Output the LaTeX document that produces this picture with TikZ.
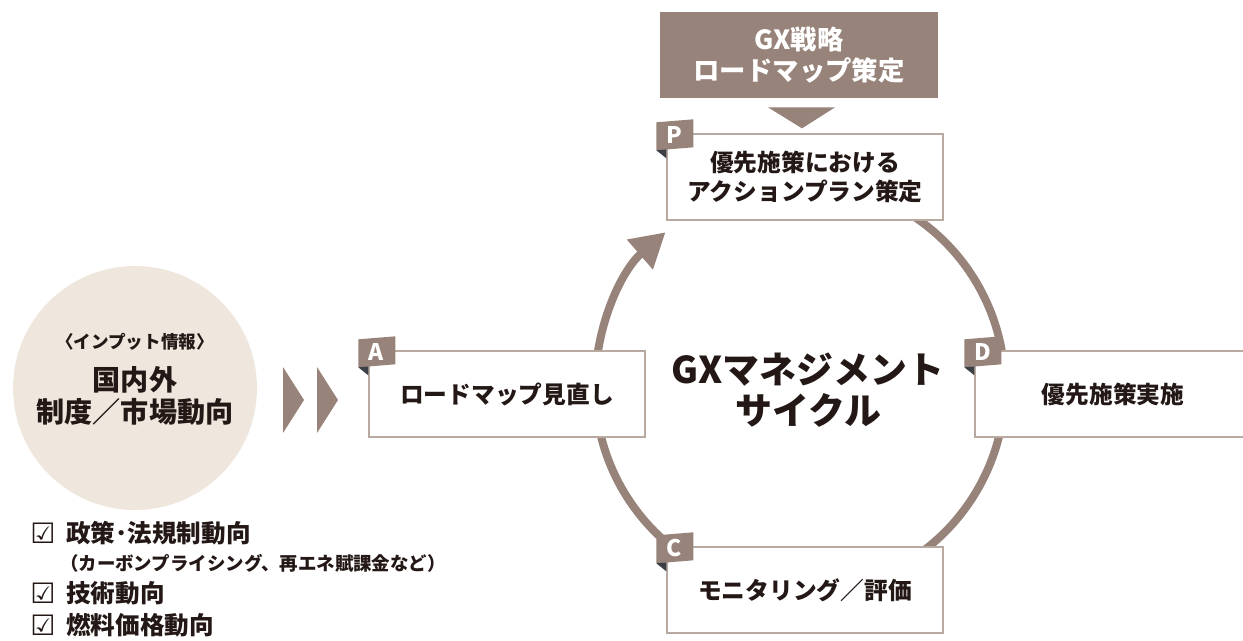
\documentclass[tikz,border=0pt]{standalone}
\usepackage{fontspec}
\setmainfont{Noto Sans CJK JP}
\newfontfamily\symfont{DejaVu Sans}
\usepackage{xcolor}
\usetikzlibrary{calc,arrows.meta}
\definecolor{gxbrown}{HTML}{97837A}
\definecolor{gxbeige}{HTML}{EFE6DE}
\definecolor{boxline}{HTML}{B8AAA0}
\definecolor{fold}{HTML}{3B4046}
\definecolor{ink}{HTML}{231815}

\begin{document}
\begin{tikzpicture}[x=0.02cm,y=-0.02cm,
  stage/.style={draw=boxline, line width=0.8pt, fill=white, minimum width=5.52cm, minimum height=1.72cm, align=center, text=ink, font=\bfseries\fontsize{13.5}{17}\selectfont},
  taglabel/.style={text=white, font=\bfseries\fontsize{13}{13}\selectfont, inner sep=0pt},
  cycleline/.style={gxbrown, line width=0.16cm, -{Triangle[length=0.68cm,width=0.75cm]}}]
\useasboundingbox (0,0) rectangle (1243,640);

% cycle
\coordinate (mid) at (800,387);
\draw[cycleline] (mid) ++(-60:205) arc[start angle=-60, end angle=229, radius=205];
\node[text=ink, font=\bfseries\fontsize{21}{23}\selectfont, align=center] (cycle) at (808,390) {GXマネジメント\\サイクル};

% strategy on top
\node[fill=gxbrown, text=white, minimum width=5.56cm, minimum height=1.72cm, align=center, font=\bfseries\fontsize{15}{18}\selectfont] (gx) at (799,55) {GX戦略\\ロードマップ策定};
\fill[gxbrown] ($(gx.south)+(-31,9)$) -- ($(gx.south)+(36,9)$) -- ($(gx.south)+(3,30)$) -- cycle;

% PDCA boxes
\node[stage] (p) at (805,177) {優先施策における\\アクションプラン策定};
\node[stage] (d) at (1113,394) {優先施策実施};
\node[stage] (c) at (805,590) {モニタリング／評価};
\node[stage] (a) at (507,394) {ロードマップ見直し};
\foreach \b/\l in {p/P,a/A,d/D,c/C}{
  \fill[gxbrown] ($(\b.north west)+(-10,-11)$) -- ($(\b.north west)+(27,-14)$) -- ($(\b.north west)+(27,14)$) -- ($(\b.north west)+(-10,17)$) -- cycle;
  \fill[fold] ($(\b.north west)+(-10,17)$) -- ($(\b.north west)+(0,16)$) -- ($(\b.north west)+(0,25)$) -- cycle;
  \node[taglabel] (tag\l) at ($(\b.north west)+(8,2)$) {\l};
}

% input
\node[circle, fill=gxbeige, minimum size=4.88cm] (input) at (135,388) {};
\node[text=ink, font=\bfseries\fontsize{10}{12}\selectfont] (inlabel) at (135,342) {〈インプット情報〉};
\node[text=ink, font=\bfseries\fontsize{16}{18.5}\selectfont, align=center] (intitle) at (135,396) {国内外\\制度／市場動向};
\fill[gxbrown] (283,367) -- (304,400) -- (283,433) -- cycle;
\fill[gxbrown] (317,367) -- (338,400) -- (317,433) -- cycle;

% checklist
\foreach \y/\n in {533/1,593/2,625/3}{
  \node[text=ink, font=\symfont\fontsize{16}{16}\selectfont] (box\n) at (43,\y) {☑};
}
\node[anchor=west, text=ink, font=\bfseries\fontsize{14}{14}\selectfont] (item1) at (60,533) {政策･法規制動向};
\node[anchor=west, text=ink, font=\bfseries\fontsize{10.5}{10.5}\selectfont] (note1) at (54,563) {（カーボンプライシング、再エネ賦課金など）};
\node[anchor=west, text=ink, font=\bfseries\fontsize{14}{14}\selectfont] (item2) at (60,593) {技術動向};
\node[anchor=west, text=ink, font=\bfseries\fontsize{14}{14}\selectfont] (item3) at (60,625) {燃料価格動向};
\end{tikzpicture}
\end{document}
